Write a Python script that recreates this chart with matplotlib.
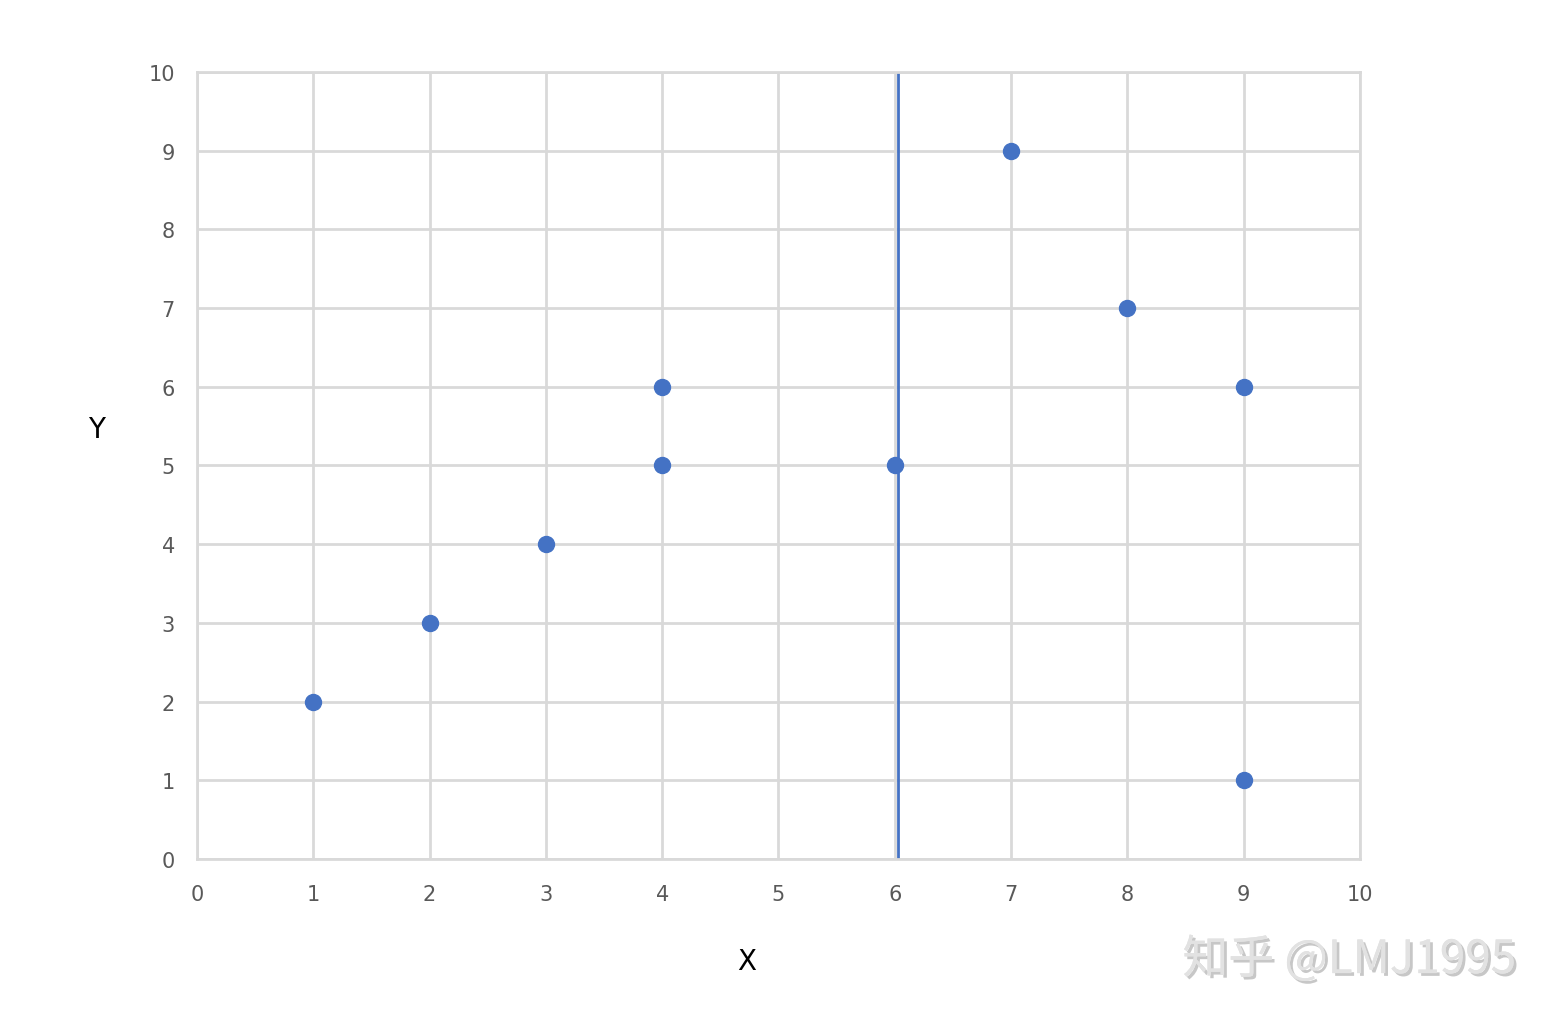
import numpy as np
import matplotlib.pyplot as plt
import matplotlib.patheffects as pe

# data
x = [1, 2, 3, 4, 4, 6, 7, 8, 9, 9]
y = [2, 3, 4, 5, 6, 5, 9, 7, 6, 1]
split_x = 6.03
ticks = np.arange(0, 11, 1)

fig = plt.figure(figsize=(15.56, 10.2), dpi=100)
ax = fig.add_axes([0.1266, 0.1569, 0.7474, 0.7715])

grid_c = '#d9d9d9'
ax.set_xlim(0, 10)
ax.set_ylim(0, 10)
ax.set_xticks(ticks)
ax.set_yticks(ticks)
ax.grid(True, color=grid_c, linewidth=2)
ax.set_axisbelow(True)
for s in ax.spines.values():
    s.set_color(grid_c)
    s.set_linewidth(2)
ax.tick_params(length=0, labelsize=15, colors='#595959')
ax.tick_params(axis='x', pad=18)
ax.tick_params(axis='y', pad=16)

ax.axvline(split_x, color='#4472C4', linewidth=2)
ax.plot(x, y, 'o', color='#4472C4', markersize=11.5, clip_on=False, zorder=3)

# axis titles placed where the reference has them
fig.text(747 / 1556, 1 - 962 / 1020, 'X', fontsize=20, ha='center', va='center')
fig.text(97 / 1556, 1 - 430 / 1020, 'Y', fontsize=20, ha='center', va='center')

fig.text(0.9745, 0.058, '知乎 @LMJ1995', ha='right', va='center', fontsize=33,
         color='#e2e2e2', family=['Noto Sans CJK SC', 'DejaVu Sans'],
         path_effects=[pe.withSimplePatchShadow(offset=(2, -2), shadow_rgbFace='#b0b0b0', alpha=0.7), pe.Normal()])

fig.savefig('out.png', dpi=100)
